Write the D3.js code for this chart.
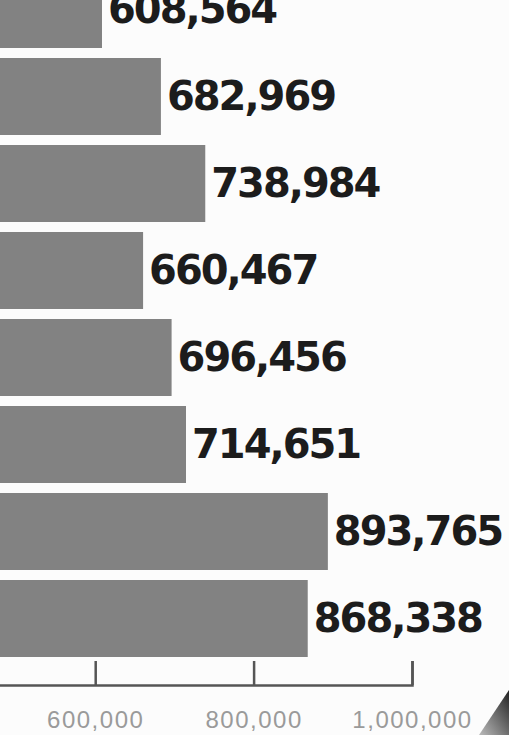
<!DOCTYPE html>
<html>
<head>
<meta charset="utf-8">
<script src="https://cdn.jsdelivr.net/npm/d3@7"></script>
<style>
  html, body { margin: 0; padding: 0; background: #fcfcfc; overflow: hidden; }
  svg { display: block; }
</style>
</head>
<body>
<script>
// rows run off the left edge of the crop, so their names are unknown
const rows = ["r1", "r2", "r3", "r4", "r5", "r6", "r7", "r8"];
const values = [608564, 682969, 738984, 660467, 696456, 714651, 893765, 868338];
const tickValues = [600000, 800000, 1000000];

const width = 509;
const height = 735;
const axisY = 685;

const svg = d3.select("body")
  .append("svg")
  .attr("width", width)
  .attr("height", height);

const x = d3.scaleLinear()
  .domain([0, 1000000])
  .range([-380, 412]);

const y = d3.scaleBand()
  .domain(rows)
  .range([-34, 662])
  .paddingInner(0.115)
  .paddingOuter(0.0575);

const data = rows.map((r, i) => ({ row: r, value: values[i] }));

svg.append("g")
  .selectAll("rect")
  .data(data)
  .join("rect")
  .attr("x", x(0))
  .attr("y", d => y(d.row))
  .attr("width", d => x(d.value) - x(0))
  .attr("height", y.bandwidth())
  .attr("fill", "#828282");

svg.append("g")
  .selectAll("text")
  .data(data)
  .join("text")
  .attr("x", d => x(d.value) + 6)
  .attr("y", d => y(d.row) + y.bandwidth() / 2)
  .attr("dy", "0.34em")
  .attr("font-family", "DejaVu Sans")
  .attr("font-weight", "bold")
  .attr("font-size", 40)
  .attr("letter-spacing", "-2px")
  .attr("fill", "#1c1c1c")
  .text(d => d3.format(",")(d.value));

const axis = svg.append("g")
  .attr("transform", `translate(0, ${axisY})`)
  .call(d3.axisBottom(x)
    .tickValues(tickValues)
    .tickFormat(d3.format(","))
    .tickSizeInner(-24)
    .tickSizeOuter(-24)
    .tickPadding(26));

axis.selectAll("path, line")
  .attr("stroke", "#555")
  .attr("stroke-width", 2.5);

axis.selectAll("text")
  .attr("font-family", "Liberation Sans")
  .attr("font-size", 24)
  .attr("letter-spacing", "1.5px")
  .attr("fill", "#9a9a9a");

// dark page-curl shading in the bottom-right corner of the photo
const grad = svg.append("defs")
  .append("linearGradient")
  .attr("id", "curl")
  .attr("x1", "0%").attr("y1", "100%")
  .attr("x2", "100%").attr("y2", "0%");
grad.append("stop").attr("offset", "0%").attr("stop-color", "#bbb");
grad.append("stop").attr("offset", "100%").attr("stop-color", "#222");

svg.append("path")
  .attr("d", `M${width - 30},${height} L${width},${height - 45} L${width},${height} Z`)
  .attr("fill", "url(#curl)");
</script>
</body>
</html>
